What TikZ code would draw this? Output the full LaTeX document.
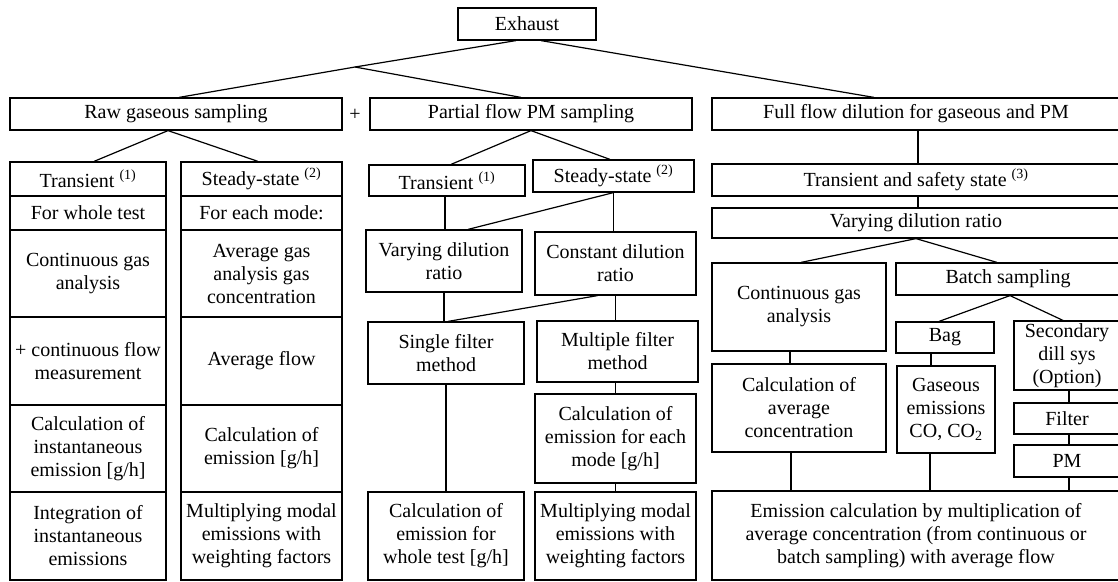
\documentclass[tikz,border=0pt]{standalone}
\usepackage{fontspec}
\setmainfont{Liberation Serif}
\usetikzlibrary{positioning}

\begin{document}
\begin{tikzpicture}[
    x=1pt, y=-1pt,
    stepbox/.style={draw, line width=1.2pt, inner sep=0pt, align=center, font=\fontsize{20}{23}\selectfont},
    link/.style={line width=1.2pt}
]
    \useasboundingbox (0,0) rectangle (1118,581);

    % Top level
    \node[stepbox, minimum width=138, minimum height=32] (exhaust) at (527,24) {Exhaust};
    \coordinate (fork) at (355,67);
    \node[stepbox, minimum width=332, minimum height=32] (raw) at (176,114) {Raw gaseous sampling};
    \node[font=\fontsize{20}{23}\selectfont, inner sep=0pt] (plus) at (355,115) {+};
    \node[stepbox, minimum width=322, minimum height=32] (partial) at (531,114) {Partial flow PM sampling};
    \node[stepbox, minimum width=408, minimum height=32] (full) at (916,114) {Full flow dilution for gaseous and PM};

    % Raw gaseous sampling, transient
    \node[stepbox, minimum width=156, minimum height=34] (rt1) at (88,179) {Transient \textsuperscript{(1)}};
    \node[stepbox, minimum width=156, minimum height=34] (rt2) at (88,213) {For whole test};
    \node[stepbox, minimum width=156, minimum height=87] (rt3) at (88,273.5) {Continuous gas\\analysis};
    \node[stepbox, minimum width=156, minimum height=88] (rt4) at (88,361) {+ continuous flow\\measurement};
    \node[stepbox, minimum width=156, minimum height=87] (rt5) at (88,448.5) {Calculation of\\instantaneous\\emission [g/h]};
    \node[stepbox, minimum width=156, minimum height=88] (rt6) at (88,536) {Integration of\\instantaneous\\emissions};

    % Raw gaseous sampling, steady-state
    \node[stepbox, minimum width=161, minimum height=34] (rs1) at (261.5,179) {Steady-state \textsuperscript{(2)}};
    \node[stepbox, minimum width=161, minimum height=34] (rs2) at (261.5,213) {For each mode:};
    \node[stepbox, minimum width=161, minimum height=87] (rs3) at (261.5,273.5) {Average gas\\analysis gas\\concentration};
    \node[stepbox, minimum width=161, minimum height=88] (rs4) at (261.5,361) {Average flow};
    \node[stepbox, minimum width=161, minimum height=87] (rs5) at (261.5,448.5) {Calculation of\\emission [g/h]};
    \node[stepbox, minimum width=161, minimum height=88] (rs6) at (261.5,536) {Multiplying modal\\emissions with\\weighting factors};

    % Partial flow PM sampling
    \node[stepbox, minimum width=156, minimum height=31] (ptrans) at (447,180.5) {Transient \textsuperscript{(1)}};
    \node[stepbox, minimum width=161, minimum height=32] (psteady) at (613.5,176) {Steady-state \textsuperscript{(2)}};
    \node[stepbox, minimum width=156, minimum height=62] (pvary) at (444,261) {Varying dilution\\ratio};
    \node[stepbox, minimum width=161, minimum height=63] (pconst) at (615.5,263.5) {Constant dilution\\ratio};
    \node[stepbox, minimum width=156, minimum height=62] (psingle) at (446,353) {Single filter\\method};
    \node[stepbox, minimum width=161, minimum height=61] (pmulti) at (617.5,351.5) {Multiple filter\\method};
    \node[stepbox, minimum width=161, minimum height=89] (pcalcmode) at (615.5,438.5) {Calculation of\\emission for each\\mode [g/h]};
    \node[stepbox, minimum width=156, minimum height=88] (pcalcwhole) at (446,536) {Calculation of\\emission for\\whole test [g/h]};
    \node[stepbox, minimum width=161, minimum height=88] (pweight) at (615.5,536) {Multiplying modal\\emissions with\\weighting factors};

    % Full flow dilution
    \node[stepbox, minimum width=408, minimum height=32] (ftrans) at (916,180) {Transient and safety state \textsuperscript{(3)}};
    \node[stepbox, minimum width=408, minimum height=30] (fvary) at (916,223) {Varying dilution ratio};
    \node[stepbox, minimum width=174, minimum height=88] (fcont) at (799,307) {Continuous gas\\analysis};
    \node[stepbox, minimum width=224, minimum height=32] (fbatch) at (1008,279) {Batch sampling};
    \node[stepbox, minimum width=98, minimum height=31] (fbag) at (945,337.5) {Bag};
    \node[stepbox, minimum width=106, minimum height=69] (fsec) at (1067,355.5) {Secondary\\dill sys\\(Option)};
    \node[stepbox, minimum width=174, minimum height=88] (favg) at (799,408) {Calculation of\\average\\concentration};
    \node[stepbox, minimum width=98, minimum height=87] (fgas) at (946,409.5) {Gaseous\\emissions\\CO, CO\textsubscript{2}};
    \node[stepbox, minimum width=106, minimum height=31] (ffilter) at (1067,418.5) {Filter};
    \node[stepbox, minimum width=106, minimum height=32] (fpm) at (1067,461) {PM};
    \node[stepbox, minimum width=408, minimum height=89] (femis) at (916,535.5) {Emission calculation by multiplication of\\average concentration (from continuous or\\batch sampling) with average flow};

    % Links, top level
    \draw[link] ([xshift=-11]exhaust.south) -- (fork);
    \draw[link] (fork) -- ([xshift=3]raw.north);
    \draw[link] (fork) -- ([xshift=-10]partial.north);
    \draw[link] ([xshift=14]exhaust.south) -- ([xshift=-42]full.north);

    % Links, raw gaseous sampling
    \draw[link] ([xshift=-8]raw.south) -- ([xshift=6]rt1.north);
    \draw[link] ([xshift=-8]raw.south) -- ([xshift=-3.5]rs1.north);

    % Links, partial flow
    \draw[link] (partial.south) -- ([xshift=4]ptrans.north);
    \draw[link] (partial.south) -- ([xshift=-3.5]psteady.north);
    \draw[link] ([xshift=-2]ptrans.south) -- ([xshift=-2]ptrans.south |- pvary.north);
    \draw[link] (psteady.south) -- ([xshift=24]pvary.north);
    \draw[link] (psteady.south) -- (psteady.south |- pconst.north);
    \draw[link] (pvary.south) -- (pvary.south |- psingle.north);
    \draw[link] ([xshift=-18]pconst.south) -- ([xshift=2]psingle.north);
    \draw[link] (pconst.south) -- (pconst.south |- pmulti.north);
    \draw[link] ([xshift=-2]pmulti.south) -- ([xshift=-2]pmulti.south |- pcalcmode.north);
    \draw[link] (pcalcmode.south) -- (pcalcmode.south |- pweight.north);
    \draw[link] (psingle.south) -- (psingle.south |- pcalcwhole.north);

    % Links, full flow
    \draw[link] ([xshift=2]full.south) -- ([xshift=2]full.south |- ftrans.north);
    \draw[link] ([xshift=2]ftrans.south) -- ([xshift=2]ftrans.south |- fvary.north);
    \draw[link] (fvary.south) -- ([xshift=2]fcont.north);
    \draw[link] (fvary.south) -- ([xshift=-11]fbatch.north);
    \draw[link] ([xshift=-9]fcont.south) -- ([xshift=-9]fcont.south |- favg.north);
    \draw[link] ([xshift=-8]favg.south) -- ([xshift=-8]favg.south |- femis.north);
    \draw[link] ([xshift=2]fbatch.south) -- ([xshift=-6]fbag.north);
    \draw[link] ([xshift=2]fbatch.south) -- ([xshift=-4]fsec.north);
    \draw[link] ([xshift=-14]fbag.south) -- ([xshift=-14]fbag.south |- fgas.north);
    \draw[link] ([xshift=-16]fgas.south) -- ([xshift=-16]fgas.south |- femis.north);
    \draw[link] ([xshift=2]fsec.south) -- ([xshift=2]fsec.south |- ffilter.north);
    \draw[link] ([xshift=2]ffilter.south) -- ([xshift=2]ffilter.south |- fpm.north);
    \draw[link] ([xshift=2]fpm.south) -- ([xshift=2]fpm.south |- femis.north);
\end{tikzpicture}
\end{document}
